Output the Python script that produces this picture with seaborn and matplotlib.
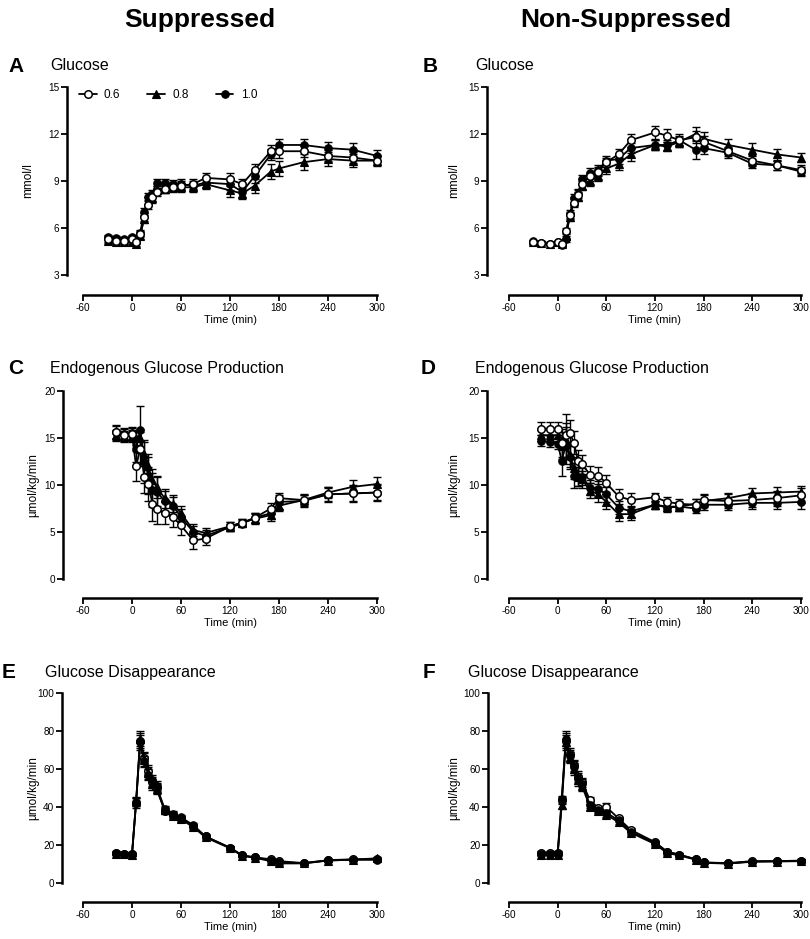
import matplotlib
matplotlib.use("Agg")
import matplotlib.pyplot as plt
import seaborn as sns
import numpy as np

sns.set_style("ticks")
plt.rcParams['font.family'] = ['Liberation Sans', 'DejaVu Sans']
plt.rcParams['text.color'] = 'black'
plt.rcParams['axes.labelcolor'] = 'black'
plt.rcParams['xtick.color'] = 'black'
plt.rcParams['ytick.color'] = 'black'
plt.rcParams['axes.unicode_minus'] = False

# ---------------- data ----------------
t_glu = [-30, -20, -10, 0, 5, 10, 15, 20, 25, 30, 40, 50, 60, 75, 90, 120, 135, 150, 170, 180, 210, 240, 270, 300]
t_flux = [-20, -10, 0, 5, 10, 15, 20, 25, 30, 40, 50, 60, 75, 90, 120, 135, 150, 170, 180, 210, 240, 270, 300]

doses = ["0.6", "0.8", "1.0"]

# Panel A: Glucose, Suppressed (mmol/l)
A_06 = [5.3, 5.2, 5.2, 5.3, 5.1, 5.6, 6.7, 7.5, 8.0, 8.3, 8.5, 8.6, 8.7, 8.8, 9.2, 9.1, 8.8, 9.7, 10.9, 10.9, 10.9, 10.6, 10.5, 10.3]
A_08 = [5.2, 5.1, 5.1, 5.1, 5.0, 5.5, 6.6, 7.7, 7.9, 8.4, 8.5, 8.6, 8.6, 8.6, 8.8, 8.4, 8.2, 8.7, 9.6, 9.8, 10.2, 10.4, 10.3, 10.3]
A_10 = [5.4, 5.35, 5.3, 5.4, 5.2, 5.7, 7.0, 8.0, 8.2, 8.9, 8.9, 8.8, 8.8, 8.7, 8.9, 8.8, 8.3, 9.3, 10.7, 11.3, 11.3, 11.1, 11.0, 10.6]
A_06_e = [0.2, 0.15, 0.15, 0.2, 0.15, 0.2, 0.25, 0.3, 0.3, 0.25, 0.25, 0.25, 0.3, 0.3, 0.3, 0.4, 0.3, 0.4, 0.4, 0.4, 0.35, 0.35, 0.35, 0.3]
A_08_e = [0.15, 0.15, 0.15, 0.15, 0.15, 0.2, 0.25, 0.3, 0.3, 0.25, 0.25, 0.3, 0.3, 0.3, 0.3, 0.4, 0.35, 0.45, 0.5, 0.45, 0.5, 0.45, 0.4, 0.35]
A_10_e = [0.15, 0.15, 0.15, 0.15, 0.15, 0.2, 0.25, 0.25, 0.25, 0.2, 0.2, 0.25, 0.3, 0.3, 0.3, 0.35, 0.35, 0.4, 0.35, 0.35, 0.35, 0.4, 0.4, 0.35]

# Panel B: Glucose, Non-Suppressed (mmol/l)
B_06 = [5.1, 5.05, 5.0, 5.1, 4.95, 5.8, 6.8, 7.6, 8.1, 8.8, 9.3, 9.6, 10.2, 10.7, 11.6, 12.1, 11.9, 11.6, 11.8, 11.5, 10.9, 10.3, 10.0, 9.7]
B_08 = [5.1, 5.05, 5.0, 5.1, 5.0, 5.5, 6.7, 7.7, 8.0, 8.7, 9.0, 9.3, 9.8, 10.1, 10.7, 11.3, 11.2, 11.5, 12.0, 11.7, 11.3, 11.0, 10.7, 10.5]
B_10 = [5.15, 5.05, 5.0, 5.1, 4.9, 5.3, 6.9, 7.9, 8.2, 9.1, 9.5, 9.7, 10.3, 10.4, 11.1, 11.3, 11.3, 11.6, 11.0, 11.1, 10.8, 10.1, 10.0, 9.6]
B_06_e = [0.1, 0.1, 0.1, 0.1, 0.1, 0.2, 0.2, 0.25, 0.3, 0.3, 0.3, 0.3, 0.3, 0.35, 0.4, 0.4, 0.4, 0.4, 0.4, 0.4, 0.3, 0.35, 0.3, 0.3]
B_08_e = [0.1, 0.1, 0.1, 0.1, 0.1, 0.2, 0.25, 0.3, 0.3, 0.3, 0.3, 0.3, 0.35, 0.4, 0.4, 0.3, 0.3, 0.3, 0.45, 0.45, 0.4, 0.4, 0.35, 0.3]
B_10_e = [0.1, 0.1, 0.1, 0.1, 0.1, 0.2, 0.25, 0.3, 0.3, 0.3, 0.3, 0.3, 0.3, 0.3, 0.3, 0.3, 0.3, 0.3, 0.6, 0.35, 0.3, 0.3, 0.3, 0.3]

# Panel C: EGP, Suppressed (umol/kg/min)
C_06 = [15.6, 15.3, 15.4, 12.0, 13.8, 10.9, 10.1, 8.0, 7.5, 7.0, 6.6, 5.7, 4.1, 4.3, 5.6, 6.0, 6.5, 7.5, 8.6, 8.4, 9.0, 9.1, 9.2]
C_08 = [15.3, 15.2, 15.2, 15.0, 15.0, 13.3, 12.0, 10.5, 9.8, 8.6, 8.0, 7.0, 5.2, 4.9, 5.6, 6.0, 6.4, 6.8, 7.8, 8.4, 9.2, 9.8, 10.1]
C_10 = [15.6, 15.4, 15.5, 13.8, 15.9, 12.5, 11.0, 9.5, 9.3, 8.3, 7.8, 6.6, 5.0, 4.6, 5.5, 5.9, 6.5, 7.0, 8.2, 8.3, 9.0, 9.1, 9.2]
C_06_e = [0.8, 0.7, 0.7, 1.6, 1.8, 1.8, 1.8, 1.8, 1.6, 1.2, 1.1, 1.0, 0.9, 0.7, 0.5, 0.4, 0.5, 0.6, 0.6, 0.6, 0.8, 0.9, 0.9]
C_08_e = [0.6, 0.5, 0.6, 0.7, 1.0, 1.3, 1.3, 1.2, 1.2, 1.0, 0.9, 0.8, 0.6, 0.5, 0.5, 0.4, 0.5, 0.6, 0.6, 0.5, 0.6, 0.7, 0.8]
C_10_e = [0.7, 0.7, 0.7, 1.4, 2.5, 2.3, 2.0, 1.8, 1.5, 1.1, 0.9, 0.8, 0.6, 0.6, 0.4, 0.4, 0.5, 0.6, 0.7, 0.6, 0.7, 0.8, 0.8]

# Panel D: EGP, Non-Suppressed
D_06 = [16.0, 16.0, 16.0, 14.5, 15.3, 15.5, 14.5, 12.6, 12.2, 11.1, 11.0, 10.2, 8.8, 8.4, 8.7, 8.2, 8.0, 7.9, 8.4, 8.3, 8.4, 8.6, 8.9]
D_08 = [15.3, 15.3, 15.3, 14.2, 14.8, 13.2, 11.8, 10.9, 10.6, 9.4, 9.0, 8.2, 6.9, 6.9, 7.9, 7.7, 7.7, 8.0, 8.3, 8.6, 9.1, 9.2, 9.3]
D_10 = [14.7, 14.6, 14.4, 12.6, 14.2, 13.0, 11.0, 10.9, 10.9, 9.7, 9.6, 9.0, 7.6, 7.2, 7.9, 7.6, 7.7, 7.5, 7.9, 7.9, 8.1, 8.1, 8.2]
D_06_e = [0.7, 0.7, 0.7, 1.5, 2.3, 1.4, 1.2, 1.1, 1.0, 0.9, 0.9, 0.9, 0.8, 0.7, 0.5, 0.5, 0.5, 0.6, 0.6, 0.7, 0.7, 0.8, 0.8]
D_08_e = [0.6, 0.6, 0.6, 1.4, 1.8, 1.3, 1.2, 1.0, 0.9, 0.8, 0.8, 0.8, 0.7, 0.6, 0.4, 0.5, 0.5, 0.5, 0.6, 0.6, 0.6, 0.6, 0.6]
D_10_e = [0.6, 0.6, 0.6, 1.6, 2.0, 1.3, 1.3, 1.0, 0.9, 0.8, 0.8, 0.8, 0.7, 0.6, 0.4, 0.5, 0.5, 0.5, 0.6, 0.6, 0.6, 0.7, 0.7]

# Panel E: Glucose disappearance, Suppressed
E_06 = [15.8, 15.5, 15.2, 42.0, 75.0, 66.0, 59.0, 53.0, 50.0, 38.0, 36.0, 34.0, 30.0, 24.5, 18.5, 14.5, 13.5, 12.5, 11.5, 10.5, 12.0, 12.5, 12.5]
E_08 = [15.3, 15.2, 15.0, 43.0, 76.0, 65.0, 58.0, 52.0, 49.5, 38.5, 35.5, 33.5, 29.5, 24.0, 18.3, 14.3, 13.3, 11.5, 10.3, 10.3, 11.8, 12.3, 13.0]
E_10 = [15.6, 15.4, 15.2, 42.5, 74.0, 64.0, 57.0, 54.0, 51.0, 39.0, 36.5, 34.5, 30.5, 24.5, 18.6, 14.6, 13.5, 12.0, 11.0, 10.4, 11.9, 12.2, 12.2]
E_06_e = [0.8, 0.8, 0.8, 2.5, 4.0, 3.0, 3.0, 3.0, 2.5, 1.5, 1.2, 1.2, 1.2, 1.0, 0.8, 0.8, 0.8, 0.8, 0.8, 0.8, 0.8, 0.8, 0.8]
E_08_e = [0.8, 0.8, 0.8, 2.5, 4.0, 3.5, 3.0, 3.0, 2.5, 1.5, 1.2, 1.2, 1.2, 1.0, 0.8, 0.8, 0.8, 1.2, 1.0, 0.8, 0.8, 0.8, 0.8]
E_10_e = [0.8, 0.8, 0.8, 2.0, 4.0, 3.0, 3.0, 3.0, 2.5, 1.5, 1.2, 1.2, 1.2, 1.0, 0.8, 0.8, 0.8, 0.8, 0.8, 0.8, 0.8, 0.8, 0.8]

# Panel F: Glucose disappearance, Non-Suppressed
F_06 = [15.8, 15.8, 15.8, 43.5, 75.0, 68.0, 62.0, 56.0, 53.0, 43.5, 39.5, 40.0, 34.0, 28.0, 21.5, 16.5, 15.0, 12.5, 10.8, 10.5, 11.5, 11.5, 11.8]
F_08 = [15.0, 15.0, 14.8, 41.0, 74.0, 66.0, 60.0, 54.0, 51.0, 40.0, 38.0, 36.0, 32.0, 26.5, 20.5, 15.8, 14.5, 12.3, 10.6, 10.2, 11.2, 11.3, 11.5]
F_10 = [15.5, 15.5, 15.5, 44.0, 76.0, 67.0, 61.0, 55.0, 52.0, 41.0, 38.5, 37.0, 33.0, 27.0, 21.0, 16.2, 14.8, 12.5, 10.8, 10.3, 11.3, 11.5, 11.6]
F_06_e = [0.8, 0.8, 0.8, 2.0, 4.0, 3.0, 3.0, 3.0, 2.5, 2.0, 1.2, 2.0, 1.0, 1.0, 0.8, 0.8, 0.8, 0.8, 0.8, 0.8, 0.8, 0.8, 0.8]
F_08_e = [0.8, 0.8, 0.8, 2.0, 4.0, 3.0, 3.0, 3.0, 2.5, 1.5, 1.2, 1.2, 1.0, 1.0, 0.8, 0.8, 0.8, 0.8, 0.8, 0.8, 0.8, 0.8, 0.8]
F_10_e = [0.8, 0.8, 0.8, 2.0, 4.0, 3.0, 3.0, 3.0, 2.5, 1.5, 1.2, 1.2, 1.0, 1.0, 0.8, 0.8, 0.8, 0.8, 0.8, 0.8, 0.8, 0.8, 0.8]

x_ticks = [-60, 0, 60, 120, 180, 240, 300]
glu_ticks = [3, 6, 9, 12, 15]
egp_ticks = [0, 5, 10, 15, 20]
rd_ticks = [0, 20, 40, 60, 80, 100]

# ---------------- figure ----------------
W, H = 810, 939
fig = plt.figure(figsize=(W / 100, H / 100), dpi=100)
PX = 72 / 100  # points per pixel


def make_ax(x0, x1, ytop, ybot):
    return fig.add_axes([x0 / W, 1 - ybot / H, (x1 - x0) / W, (ybot - ytop) / H])


styles = {
    "0.6": dict(marker="o", markerfacecolor="white", markeredgecolor="black", markersize=5.4, markeredgewidth=1.1),
    "0.8": dict(marker="^", markerfacecolor="black", markeredgecolor="black", markersize=5.4, markeredgewidth=0.8),
    "1.0": dict(marker="o", markerfacecolor="black", markeredgecolor="black", markersize=5.4, markeredgewidth=0.8),
}

panels = [
    ("A", "Glucose", (83, 377, 87, 275), (16, 20), t_glu, (A_06, A_08, A_10), (A_06_e, A_08_e, A_10_e),
     (3, 15), glu_ticks, "mmol/l", 34, (8, 66), (50, 66), [2, 1, 0]),
    ("B", "Glucose", (509, 801, 87, 275), (22, 20), t_glu, (B_06, B_08, B_10), (B_06_e, B_08_e, B_10_e),
     (3, 15), glu_ticks, "mmol/l", 460, (423, 66), (475, 66), [2, 1, 0]),
    ("C", "Endogenous Glucose Production", (83, 377, 391, 579), (20, 19), t_flux, (C_06, C_08, C_10), (C_06_e, C_08_e, C_10_e),
     (0, 20), egp_ticks, "\u00b5mol/kg/min", 39, (8, 369), (50, 369), [2, 1, 0]),
    ("D", "Endogenous Glucose Production", (509, 801, 391, 579), (22, 19), t_flux, (D_06, D_08, D_10), (D_06_e, D_08_e, D_10_e),
     (0, 20), egp_ticks, "\u00b5mol/kg/min", 460, (421, 369), (475, 369), [2, 1, 0]),
    ("E", "Glucose Disappearance", (83, 377, 693, 883), (21, 19), t_flux, (E_06, E_08, E_10), (E_06_e, E_08_e, E_10_e),
     (0, 100), rd_ticks, "\u00b5mol/kg/min", 39, (2, 673), (45, 673), [0, 1, 2]),
    ("F", "Glucose Disappearance", (509, 801, 693, 883), (21, 19), t_flux, (F_06, F_08, F_10), (F_06_e, F_08_e, F_10_e),
     (0, 100), rd_ticks, "\u00b5mol/kg/min", 460, (423, 673), (468, 673), [0, 1, 2]),
]

for (letter, title, box, offs, t, series, errs, ylim, yticks, ylabel, ylabx, lpos, tpos, order) in panels:
    ax = make_ax(*box)
    for rank, i in enumerate(order):
        d = doses[i]
        ebar = ax.errorbar(t, series[i], yerr=errs[i], fmt="none", ecolor="black",
                           elinewidth=1.0, capsize=2.6, capthick=1.0, zorder=2 + rank)
        for ch in ebar.get_children():
            ch.set_clip_on(False)
        sns.lineplot(x=t, y=series[i], ax=ax, color="black", linewidth=1.3,
                     label=d if letter == "A" else None, legend=False,
                     clip_on=False, zorder=3 + rank, **styles[d])
    ax.set_xlim(-60, 300)
    ax.set_ylim(*ylim)
    ax.set_xticks(x_ticks)
    ax.set_yticks(yticks)
    ax.tick_params(axis="both", direction="out", length=4, width=1.3, labelsize=7.2, pad=1.5, colors="black")
    for s in ["left", "bottom"]:
        ax.spines[s].set_linewidth(1.8)
        ax.spines[s].set_color("black")
    sns.despine(ax=ax, offset={"left": offs[0] * PX, "bottom": offs[1] * PX})
    ax.set_xlabel("Time (min)", fontsize=8)
    ax.xaxis.set_label_coords((box[0] + box[1]) / 2 / W, 1 - (box[3] + offs[1] + 20) / H, transform=fig.transFigure)
    ax.set_ylabel(ylabel, fontsize=8.5)
    ax.yaxis.set_label_coords(ylabx / W, 1 - (box[2] + box[3]) / 2 / H, transform=fig.transFigure)
    fig.text(lpos[0] / W, 1 - lpos[1] / H, letter, fontsize=15, fontweight="bold", va="center", ha="left")
    fig.text(tpos[0] / W, 1 - tpos[1] / H, title, fontsize=11.5, va="center", ha="left")
    if letter == "A":
        handles, labels = ax.get_legend_handles_labels()
        idx = [labels.index(d) for d in doses]
        ax.legend([handles[k] for k in idx], [labels[k] for k in idx], ncol=3, frameon=False,
                  fontsize=8.5, loc="center left", bbox_to_anchor=(79 / W, 1 - 95 / H),
                  bbox_transform=fig.transFigure, handlelength=1.5, columnspacing=2.3,
                  handletextpad=0.6, borderpad=0, borderaxespad=0)

fig.text(200 / W, 1 - 20 / H, "Suppressed", fontsize=19, fontweight="bold", ha="center", va="center")
fig.text(626 / W, 1 - 20 / H, "Non-Suppressed", fontsize=19, fontweight="bold", ha="center", va="center")

fig.savefig("out.png", dpi=100)
